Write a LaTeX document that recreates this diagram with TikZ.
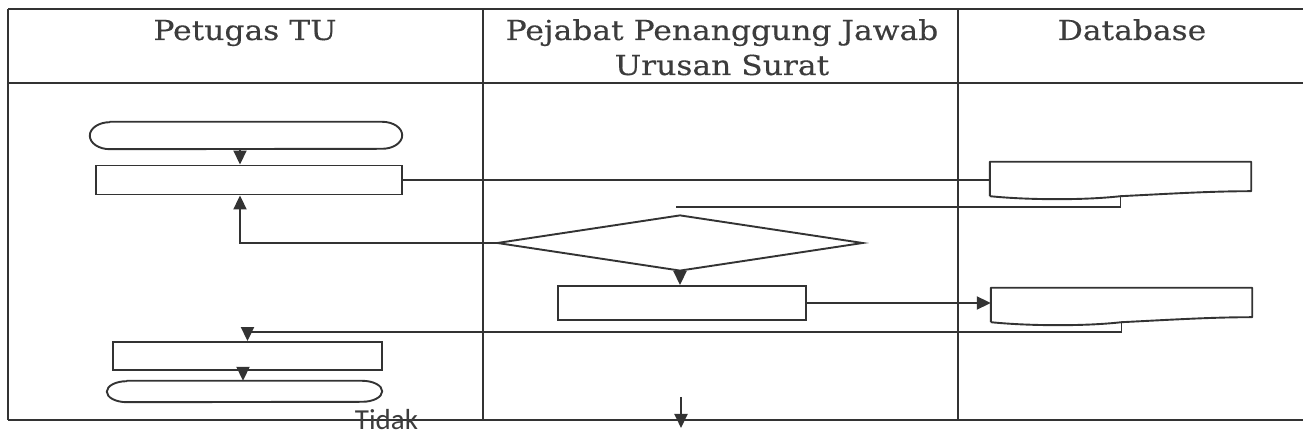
\documentclass[tikz,border=0pt]{standalone}
\usepackage{fontspec}
\setmainfont{DejaVu Serif}[FakeStretch=1.14,FakeBold=0.3]
\newfontfamily\notefont{Carlito}
\usetikzlibrary{arrows.meta,calc,shapes.geometric}

\definecolor{ink}{HTML}{333333}
\definecolor{txt}{HTML}{3C3C3C}

% terminal outline: flat top and bottom with elliptic ends
\newcommand\termoutline[2]{%
  \draw[shape line] ($(#1.north west)+(20,0)$) -- ($(#1.north east)+(-20,0)$)
    arc[start angle=90,end angle=-90,x radius=20,y radius=#2]
    -- ($(#1.south west)+(20,0)$)
    arc[start angle=270,end angle=90,x radius=20,y radius=#2] -- cycle;}
% document outline: wavy lower edge
\newcommand\docoutline[1]{%
  \draw[shape line] (#1.south west) -- (#1.north west) -- (#1.north east)
    -- ($(#1.south east)+(0,5)$)
    .. controls ($(#1.south east)+(-40,5)$) and ($(#1.south)+(50,2.5)$) .. (#1.south)
    .. controls ($(#1.south)+(-35,-4)$) and ($(#1.south west)+(40,-4)$) .. (#1.south west);}

\begin{document}
\begin{tikzpicture}[x=1pt,y=1pt,
  grid line/.style={draw=ink,line width=2pt},
  shape line/.style={draw=ink,line width=1.9pt,line join=round},
  flow/.style={draw=ink,line width=1.9pt},
  flowarrow/.style={flow,-{Triangle[length=14pt,width=13pt]}},
  procbox/.style={draw=ink,line width=1.9pt,rectangle,inner sep=0pt},
  hidden/.style={draw=none,rectangle,inner sep=0pt},
  decision/.style={draw=ink,line width=1.9pt,diamond,inner sep=0pt,aspect=6.5},
  lanehead/.style={text=txt,font=\fontsize{27.5}{32}\selectfont,anchor=base,inner sep=0pt},
  notelabel/.style={text=txt,font=\notefont\fontsize{29}{32}\selectfont,anchor=base,inner sep=0pt}]

\useasboundingbox (0,0) rectangle (1303,435);

% swimlane grid
\draw[grid line] (8,425.5) -- (1303,425.5);
\draw[grid line] (8,351.5) -- (1303,351.5);
\draw[grid line] (8,15) -- (1303,15);
\draw[grid line] (8,425.5) -- (8,15);
\draw[grid line] (483,425.5) -- (483,15);
\draw[grid line] (958,425.5) -- (958,15);

% lane headings
\node[lanehead] (h1) at (245,395) {Petugas TU};
\node[lanehead] (h2a) at (722,395) {Pejabat Penanggung Jawab};
\node[lanehead] (h2b) at (722,360) {Urusan Surat};
\node[lanehead] (h3) at (1132,395) {Database};

% shapes
\node[hidden,minimum width=312pt,minimum height=27pt] (s1) at (246,299.5) {};
\termoutline{s1}{13.5}
\node[procbox,minimum width=306pt,minimum height=29pt] (r1) at (249,255) {};
\node[hidden,minimum width=261pt,minimum height=34pt] (db1) at (1120.5,256) {};
\docoutline{db1}
\node[decision,minimum width=366pt,minimum height=56pt] (dia) at (680,192) {};
\node[procbox,minimum width=248pt,minimum height=34pt] (r2) at (682,132) {};
\node[hidden,minimum width=261pt,minimum height=34pt] (db2) at (1121.5,130) {};
\docoutline{db2}
\node[procbox,minimum width=269pt,minimum height=28pt] (r3) at (247.5,79) {};
\node[hidden,minimum width=275pt,minimum height=21pt] (s2) at (244.5,43.5) {};
\termoutline{s2}{10.5}

% free ends
\coordinate (e1) at (676,228);
\coordinate (b1) at (681,38);
\coordinate (b2) at (681,7);

% connectors
\draw[flowarrow] (s1.south -| 240,0) -- (r1.north -| 240,0);
\draw[flow] (r1.east) -- (r1.east -| db1.west);
\draw[flow] (db1.south) |- (e1);
\draw[flowarrow] (dia.west) -| (r1.south -| 240,0);
\draw[flowarrow] (dia.south) -- (dia.south |- r2.north);
\draw[flowarrow] (r2.east) -- (r2.east -| db2.west);
\draw[flowarrow] (db2.south) -- (db2.south |- 0,103) -| (r3.north);
\draw[flowarrow] (r3.south -| 243,0) -- (s2.north -| 243,0);
\draw[flowarrow] (b1) -- (b2);

\node[notelabel] (no) at (386.5,5) {Tidak};
\end{tikzpicture}
\end{document}
